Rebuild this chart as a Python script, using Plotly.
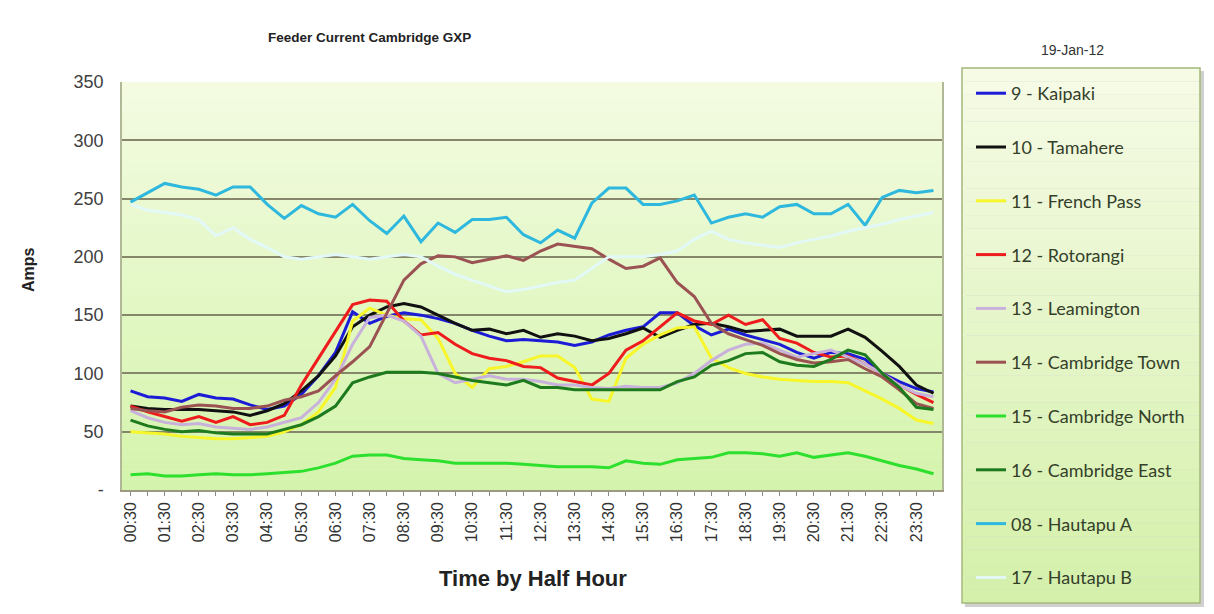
import plotly.graph_objects as go

# ---------------- data ----------------
times = ["00:30", "01:00", "01:30", "02:00", "02:30", "03:00", "03:30", "04:00",
         "04:30", "05:00", "05:30", "06:00", "06:30", "07:00", "07:30", "08:00",
         "08:30", "09:00", "09:30", "10:00", "10:30", "11:00", "11:30", "12:00",
         "12:30", "13:00", "13:30", "14:00", "14:30", "15:00", "15:30", "16:00",
         "16:30", "17:00", "17:30", "18:00", "18:30", "19:00", "19:30", "20:00",
         "20:30", "21:00", "21:30", "22:00", "22:30", "23:00", "23:30", "24:00"]

kaipaki = [85, 80, 79, 76, 82, 79, 78, 73, 69, 72, 82, 98, 118, 153, 143, 149,
           152, 150, 147, 143, 137, 132, 128, 129, 128, 127, 124, 127, 133, 137, 140, 152,
           152, 141, 133, 138, 133, 129, 125, 118, 113, 118, 117, 112, 100, 93, 87, 84]
tamahere = [72, 70, 69, 69, 69, 68, 67, 64, 68, 74, 85, 98, 115, 140, 150, 157,
            160, 157, 150, 143, 137, 138, 134, 137, 131, 134, 132, 128, 130, 134, 139, 131,
            137, 142, 143, 140, 136, 137, 138, 132, 132, 132, 138, 131, 119, 106, 90, 83]
french_pass = [50, 49, 48, 46, 45, 44, 44, 45, 46, 50, 56, 67, 88, 145, 156, 150,
               147, 146, 130, 100, 88, 104, 106, 110, 115, 115, 105, 78, 76, 113, 125, 133,
               139, 140, 113, 105, 100, 97, 95, 94, 93, 93, 92, 85, 78, 70, 60, 57]
rotorangi = [72, 67, 63, 59, 63, 58, 63, 56, 58, 64, 90, 113, 136, 159, 163, 162,
             145, 133, 135, 125, 117, 113, 111, 106, 105, 96, 93, 90, 100, 120, 128, 140,
             152, 145, 142, 150, 142, 146, 130, 126, 118, 114, 115, 108, 100, 90, 82, 75]
leamington = [68, 62, 58, 56, 57, 54, 53, 52, 54, 58, 62, 75, 95, 125, 148, 150,
              145, 132, 100, 92, 95, 98, 95, 95, 93, 90, 90, 88, 87, 89, 88, 88,
              92, 100, 111, 120, 125, 126, 120, 114, 117, 120, 114, 108, 100, 90, 83, 80]
cambridge_town = [70, 68, 67, 71, 73, 72, 70, 70, 72, 77, 80, 85, 98, 110, 123, 152,
                  180, 194, 201, 200, 195, 198, 201, 197, 205, 211, 209, 207, 198, 190, 192, 199,
                  178, 166, 143, 134, 129, 124, 117, 112, 109, 110, 112, 104, 97, 86, 74, 70]
cambridge_north = [13, 14, 12, 12, 13, 14, 13, 13, 14, 15, 16, 19, 23, 29, 30, 30,
                   27, 26, 25, 23, 23, 23, 23, 22, 21, 20, 20, 20, 19, 25, 23, 22,
                   26, 27, 28, 32, 32, 31, 29, 32, 28, 30, 32, 29, 25, 21, 18, 14]
cambridge_east = [60, 55, 52, 50, 51, 49, 48, 48, 48, 52, 56, 63, 72, 92, 97, 101,
                  101, 101, 100, 97, 94, 92, 90, 94, 88, 88, 86, 86, 86, 86, 86, 86,
                  93, 97, 107, 111, 117, 118, 110, 107, 106, 112, 120, 116, 100, 88, 71, 69]
hautapu_a = [247, 255, 263, 260, 258, 253, 260, 260, 245, 233, 244, 237, 234, 245, 231, 220,
             235, 213, 229, 221, 232, 232, 234, 219, 212, 223, 216, 246, 259, 259, 245, 245,
             248, 253, 229, 234, 237, 234, 243, 245, 237, 237, 245, 227, 251, 257, 255, 257]
hautapu_b = [245, 240, 238, 236, 232, 218, 225, 215, 208, 200, 198, 200, 202, 200, 198, 200,
             202, 200, 192, 185, 180, 175, 170, 172, 175, 178, 180, 190, 200, 200, 200, 202,
             205, 215, 222, 215, 212, 210, 208, 212, 215, 218, 222, 225, 228, 232, 235, 238]

series_names = ["9 - Kaipaki", "10 - Tamahere", "11 - French Pass", "12 - Rotorangi",
                "13 - Leamington", "14 - Cambridge Town", "15 - Cambridge North",
                "16 - Cambridge East", "08 - Hautapu A", "17 - Hautapu B"]
series_values = [kaipaki, tamahere, french_pass, rotorangi, leamington, cambridge_town,
                 cambridge_north, cambridge_east, hautapu_a, hautapu_b]

y_tickvals = [0, 50, 100, 150, 200, 250, 300, 350]
y_ticktext = ["-", "50", "100", "150", "200", "250", "300", "350"]

chart_title = "Feeder Current Cambridge GXP"
legend_caption = "19-Jan-12"
x_title = "Time by Half Hour"
y_title = "Amps"

# ---------------- style ----------------
colors = ["#1c1cd6", "#111111", "#f6f62a", "#ee1c1c", "#c8b2dc", "#9a5252",
          "#2ee02e", "#1d7a1d", "#2fb8de", "#e2f9f8"]

OFF = 8                      # default page body margin
W, H = 1214 - OFF, 614 - OFF
# target positions in screenshot pixels
SL, SR, ST, SB = 122, 942, 82, 490
L, R, T, B = SL - OFF, SR - OFF, ST - OFF, SB - OFF


def px_x(p):
    return (p - SL) / (SR - SL)


def px_y(p):
    return (SB - p) / (SB - ST)


def lerp(c1, c2, t):
    return "rgb(%d,%d,%d)" % tuple(round(a + (b - a) * t) for a, b in zip(c1, c2))


fig = go.Figure()
for name, vals, col in zip(series_names, series_values, colors):
    fig.add_trace(go.Scatter(x=times, y=vals, name=name, mode="lines",
                             line=dict(color=col, width=3), legendgroup=name))

shapes = []
nb = 40
top_c, bot_c = (244, 251, 226), (212, 244, 172)
for k in range(nb):
    shapes.append(dict(type="rect", xref="paper", yref="paper", x0=0, x1=1,
                       y0=1 - (k + 1) / nb, y1=1 - k / nb, layer="below",
                       fillcolor=lerp(top_c, bot_c, (k + 0.5) / nb), line=dict(width=0)))
shapes.append(dict(type="rect", xref="paper", yref="paper",
                   x0=px_x(965), x1=px_x(1204), y0=px_y(607), y1=px_y(71),
                   fillcolor="rgba(120,120,120,0.35)", line=dict(width=0), layer="below"))
lt, lb = (246, 251, 230), (212, 240, 170)
y_top, y_bot = 68, 603
for k in range(nb):
    a = y_top + (y_bot - y_top) * k / nb
    b = y_top + (y_bot - y_top) * (k + 1) / nb
    shapes.append(dict(type="rect", xref="paper", yref="paper",
                       x0=px_x(962), x1=px_x(1200), y0=px_y(b), y1=px_y(a),
                       fillcolor=lerp(lt, lb, (k + 0.5) / nb), line=dict(width=0), layer="below"))
shapes.append(dict(type="rect", xref="paper", yref="paper",
                   x0=px_x(962), x1=px_x(1200), y0=px_y(y_bot), y1=px_y(y_top),
                   fillcolor="rgba(0,0,0,0)", line=dict(color="#a4b87a", width=1.5), layer="below"))

fig.update_layout(
    width=W, height=H,
    margin=dict(l=L, r=W - R, t=T, b=H - B, autoexpand=False),
    paper_bgcolor="white",
    plot_bgcolor="#e8f8cc",
    font=dict(family="Liberation Sans, Arial, sans-serif", color="#333333"),
    shapes=shapes,
    showlegend=True,
    legend=dict(xref="container", yref="container", x=(971 - OFF) / W, y=1 - (75 - OFF) / H,
                xanchor="left", yanchor="top", bgcolor="rgba(0,0,0,0)", borderwidth=0,
                traceorder="grouped", tracegroupgap=27.4, maxheight=560,
                font=dict(family="Lato, Liberation Sans, sans-serif", size=18, color="#34402a")),
    annotations=[
        dict(text="<b>" + chart_title + "</b>", xref="paper", yref="paper",
             x=px_x(369), y=px_y(38), showarrow=False,
             font=dict(size=13.5, color="#222222"), xanchor="center", yanchor="middle"),
        dict(text=legend_caption, xref="paper", yref="paper",
             x=px_x(1072), y=px_y(50), showarrow=False,
             font=dict(size=14, color="#333333"), xanchor="center", yanchor="middle"),
        dict(text="<b>" + x_title + "</b>", xref="paper", yref="paper",
             x=px_x(533), y=px_y(578), showarrow=False,
             font=dict(size=22, color="#222222"), xanchor="center", yanchor="middle"),
        dict(text="<b>" + y_title + "</b>", xref="paper", yref="paper",
             x=px_x(28), y=px_y(270), showarrow=False, textangle=-90,
             font=dict(size=16, color="#222222"), xanchor="center", yanchor="middle"),
    ],
    xaxis=dict(type="category", categoryorder="array", categoryarray=times,
               tickmode="array", tickvals=times,
               ticktext=[t if i % 2 == 0 else "" for i, t in enumerate(times)],
               tickangle=-90, tickfont=dict(size=16, color="#333333"),
               ticks="outside", ticklen=4, tickcolor="#888888",
               showgrid=False, showline=True, linecolor="#9a9a80", linewidth=1.5,
               mirror=False, range=[-0.5, len(times) - 0.5]),
    yaxis=dict(range=[0, 350], tickmode="array", tickvals=y_tickvals, ticktext=y_ticktext,
               tickfont=dict(size=18, color="#404040"), ticklabelstandoff=13,
               showgrid=True, gridcolor="#86866a", gridwidth=1.5,
               showline=True, linecolor="#b0b898", linewidth=1.5, mirror=True,
               zeroline=False, ticks=""),
)

fig.write_html("out.html")
